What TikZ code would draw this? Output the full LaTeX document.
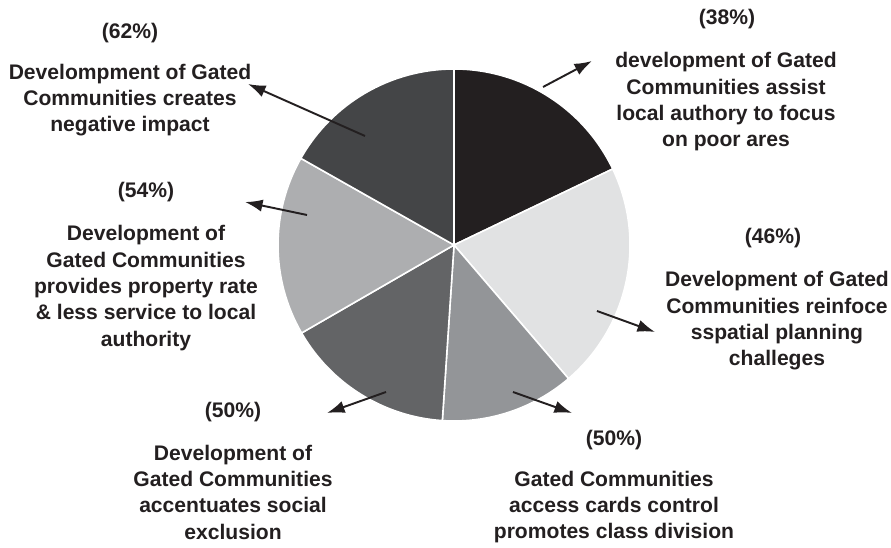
\documentclass[tikz,border=0pt]{standalone}
\usepackage{fontspec}
\setmainfont{Liberation Sans}
\usetikzlibrary{arrows.meta}
\definecolor{txt}{HTML}{231F20}
\definecolor{gA}{HTML}{231F20}
\definecolor{gB}{HTML}{E1E2E3}
\definecolor{gC}{HTML}{939598}
\definecolor{gD}{HTML}{636466}
\definecolor{gE}{HTML}{ADAEB0}
\definecolor{gF}{HTML}{444547}
\tikzset{
	lbl/.style={align=center,font=\bfseries\fontsize{12}{15}\selectfont,text=txt,inner sep=0pt},
	arr/.style={-{Latex[length=10pt,width=7pt]},line width=1.1pt,draw=txt},
	slice/.style={fill=#1,draw=white,line width=0.9pt}
}

\begin{document}
\begin{tikzpicture}[x=0.02cm,y=0.02cm]
	\useasboundingbox (0,0) rectangle (891,547);
	\coordinate (c) at (454,302);

	% pie
	\filldraw[slice=gA] (c) -- ++(90:176) arc[start angle=90,end angle=25.6,radius=176] -- cycle;
	\filldraw[slice=gB] (c) -- ++(25.6:176) arc[start angle=25.6,end angle=-49.4,radius=176] -- cycle;
	\filldraw[slice=gC] (c) -- ++(-49.4:176) arc[start angle=-49.4,end angle=-93.8,radius=176] -- cycle;
	\filldraw[slice=gD] (c) -- ++(-93.8:176) arc[start angle=-93.8,end angle=-150,radius=176] -- cycle;
	\filldraw[slice=gE] (c) -- ++(-150:176) arc[start angle=-150,end angle=-209.5,radius=176] -- cycle;
	\filldraw[slice=gF] (c) -- ++(150.5:176) arc[start angle=150.5,end angle=90,radius=176] -- cycle;

	% labels
	\node[lbl] (p38) at (727,528) {(38\%)};
	\node[lbl] (t38) at (726,445) {development of Gated\\Communities assist\\local authory to focus\\on poor ares};
	\node[lbl] (p46) at (773,309) {(46\%)};
	\node[lbl] (t46) at (777,226) {Development of Gated\\Communities reinfoce\\sspatial planning\\challeges};
	\node[lbl] (p50r) at (614,107) {(50\%)};
	\node[lbl] (t50r) at (614,40) {Gated Communities\\access cards control\\promotes class division};
	\node[lbl] (p50l) at (233,135) {(50\%)};
	\node[lbl] (t50l) at (233,55) {Development of\\Gated Communities\\accentuates social\\exclusion};
	\node[lbl] (p54) at (146,355) {(54\%)};
	\node[lbl] (t54) at (146,259) {Development of\\Gated Communities\\provides property rate\\\& less service to local\\authority};
	\node[lbl] (p62) at (130,514) {(62\%)};
	\node[lbl] (t62) at (130,447) {Develompment of Gated\\Communities creates\\negative impact};

	% arrows
	\coordinate (a38) at (543,460);  \coordinate (e38) at (592,486);
	\coordinate (a46) at (597,236);  \coordinate (e46) at (655,215);
	\coordinate (a50r) at (513,155); \coordinate (e50r) at (572,134);
	\coordinate (a50l) at (386,155); \coordinate (e50l) at (327,134);
	\coordinate (a54) at (307,332);  \coordinate (e54) at (245,345);
	\coordinate (a62) at (365,411);  \coordinate (e62) at (248,463);
	\draw[arr] (a38) -- (e38);
	\draw[arr] (a46) -- (e46);
	\draw[arr] (a50r) -- (e50r);
	\draw[arr] (a50l) -- (e50l);
	\draw[arr] (a54) -- (e54);
	\draw[arr] (a62) -- (e62);
\end{tikzpicture}
\end{document}
